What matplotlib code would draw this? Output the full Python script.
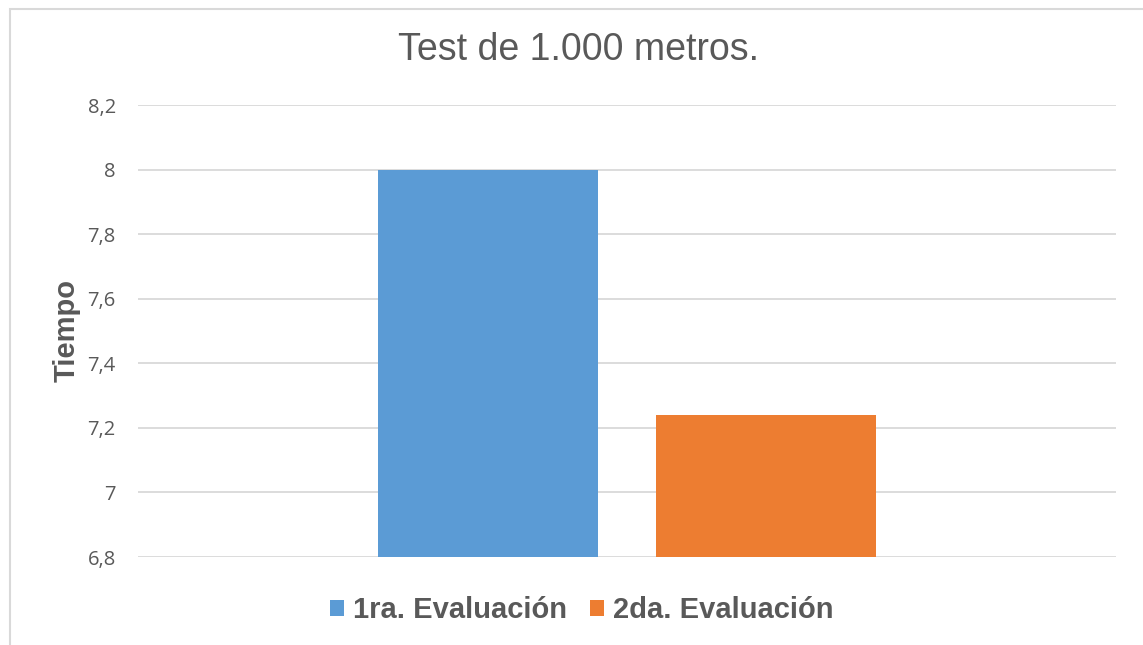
import matplotlib.pyplot as plt
from matplotlib.patches import Rectangle
from matplotlib.ticker import FuncFormatter

# data
series = ['1ra. Evaluación', '2da. Evaluación']
values = [8.0, 7.24]
colors = ['#5b9bd5', '#ed7d31']
yticks = [6.8, 7.0, 7.2, 7.4, 7.6, 7.8, 8.0, 8.2]

fig = plt.figure(figsize=(11.43, 6.45), dpi=100)
fig.patches.append(Rectangle((10 / 1143, -0.1), 1.2, 1.1 - 9 / 645,
                             transform=fig.transFigure, fill=False,
                             edgecolor='#d9d9d9', linewidth=1.5))

ax = fig.add_axes([138 / 1143, 1 - 557 / 645, 978 / 1143, 452 / 645])
offsets = [-0.142, 0.142]
for name, val, col, off in zip(series, values, colors, offsets):
    ax.bar(off, val - 6.8, bottom=6.8, width=0.225, color=col, label=name, zorder=3)

ax.set_xlim(-0.5, 0.5)
ax.set_ylim(6.8, 8.2)
ax.set_yticks(yticks)
ax.yaxis.set_major_formatter(FuncFormatter(
    lambda v, p: ('%g' % round(v, 1)).replace('.', ',')))
ax.set_xticks([])
ax.grid(axis='y', color='#d9d9d9', linewidth=1.3, zorder=0)
for s in ax.spines.values():
    s.set_visible(False)
ax.tick_params(axis='y', length=0, pad=16, labelsize=14.5, labelcolor='#595959')
for lab in ax.get_yticklabels():
    lab.set_family('Open Sans')

ax.set_ylabel('Tiempo', fontsize=21, fontweight='bold', color='#595959',
              family='Liberation Sans', labelpad=5)
fig.text(578 / 1143, 1 - 50 / 645, 'Test de 1.000 metros.', ha='center', va='center',
         fontsize=27, color='#595959', family='Liberation Sans')

leg = fig.legend(loc='center', bbox_to_anchor=(582 / 1143, 1 - 610 / 645), ncol=2,
                 frameon=False, handlelength=0.48, handleheight=0.48, handletextpad=0.3,
                 columnspacing=0.8,
                 prop={'family': 'Liberation Sans', 'weight': 'bold', 'size': 21})
for t in leg.get_texts():
    t.set_color('#595959')

fig.savefig('out.png', dpi=100)
